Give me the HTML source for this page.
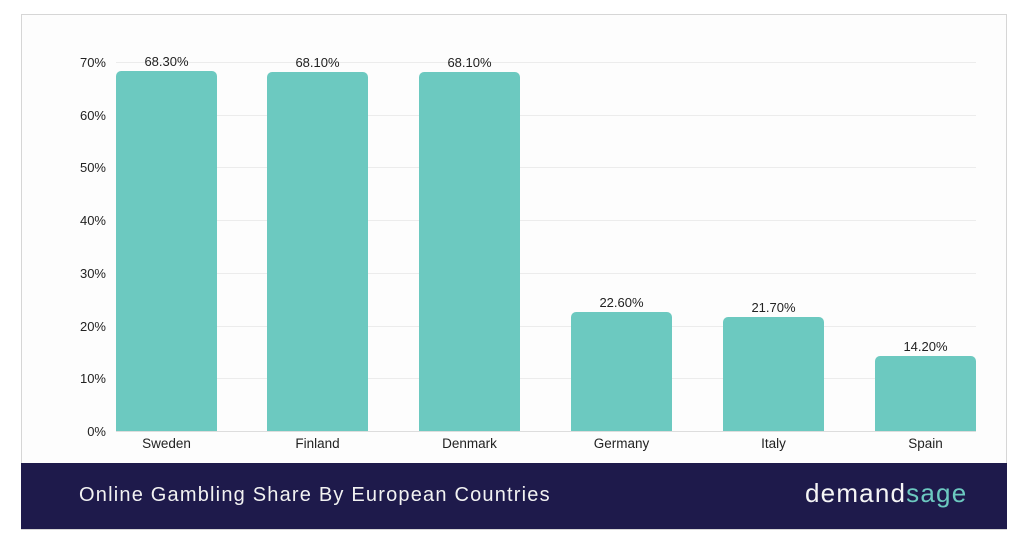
<!DOCTYPE html>
<html><head><meta charset="utf-8"><style>
body{margin:0;width:1024px;height:540px;background:#fff;font-family:"Liberation Sans",sans-serif;position:relative;overflow:hidden}
.card{position:absolute;left:21px;top:14px;width:984px;height:514px;border:1px solid #d6d6d6;background:#fdfdfd}
.grid{position:absolute;left:116px;width:860px;height:1px;background:#ececec}
.yl{position:absolute;left:60px;width:46px;text-align:right;font-size:13px;color:#222}
.bar{position:absolute;width:101px;background:#6cc9c0;border-radius:5px 5px 0 0}
.vl{position:absolute;width:101px;text-align:center;font-size:13px;color:#222}
.xl{position:absolute;top:436px;width:101px;text-align:center;font-size:13.5px;color:#222}
.foot{position:absolute;left:21px;top:463px;width:986px;height:66px;background:#1e1a4b}
</style></head><body>
<div class="card"></div>
<div class="grid" style="top:62px"></div>
<div class="grid" style="top:115px"></div>
<div class="grid" style="top:167px"></div>
<div class="grid" style="top:220px"></div>
<div class="grid" style="top:273px"></div>
<div class="grid" style="top:326px"></div>
<div class="grid" style="top:378px"></div>
<div class="grid" style="top:431px;background:#ddd"></div>
<div class="yl" style="top:55px">70%</div>
<div class="yl" style="top:108px">60%</div>
<div class="yl" style="top:160px">50%</div>
<div class="yl" style="top:213px">40%</div>
<div class="yl" style="top:266px">30%</div>
<div class="yl" style="top:319px">20%</div>
<div class="yl" style="top:371px">10%</div>
<div class="yl" style="top:424px">0%</div>

<div class="bar" style="left:116px;top:71px;height:360px"></div>
<div class="bar" style="left:267px;top:72px;height:359px"></div>
<div class="bar" style="left:419px;top:72px;height:359px"></div>
<div class="bar" style="left:571px;top:312px;height:119px"></div>
<div class="bar" style="left:723px;top:317px;height:114px"></div>
<div class="bar" style="left:875px;top:356px;height:75px"></div>

<div class="vl" style="left:116px;top:54px">68.30%</div>
<div class="vl" style="left:267px;top:55px">68.10%</div>
<div class="vl" style="left:419px;top:55px">68.10%</div>
<div class="vl" style="left:571px;top:295px">22.60%</div>
<div class="vl" style="left:723px;top:300px">21.70%</div>
<div class="vl" style="left:875px;top:339px">14.20%</div>

<div class="xl" style="left:116px">Sweden</div>
<div class="xl" style="left:267px">Finland</div>
<div class="xl" style="left:419px">Denmark</div>
<div class="xl" style="left:571px">Germany</div>
<div class="xl" style="left:723px">Italy</div>
<div class="xl" style="left:875px">Spain</div>

<div class="foot">
<div style="position:absolute;left:58px;top:21px;color:#f2f2f2;font-size:20px;letter-spacing:1.2px">Online Gambling Share By European Countries</div>
<div style="position:absolute;left:784px;top:15px;font-size:26px;color:#f5f5f5;letter-spacing:1.2px">demand<span style="color:#6cc9c0">sage</span></div>
</div>
</body></html>
